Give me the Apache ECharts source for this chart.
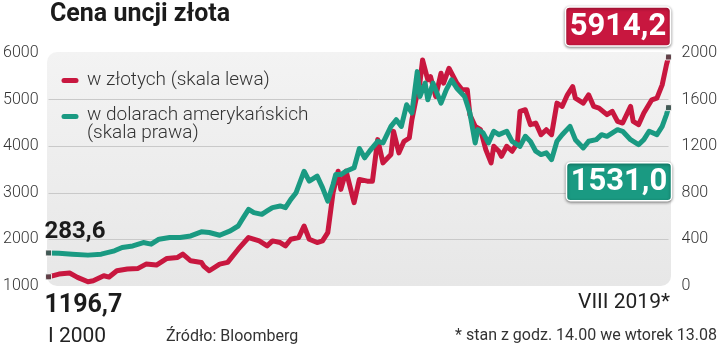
<!DOCTYPE html>
<html>
<head>
<meta charset="utf-8">
<script src="https://cdn.jsdelivr.net/npm/echarts@6/dist/echarts.min.js"></script>
<style>
  html, body { margin: 0; padding: 0; background: #ffffff; }
  #chart { width: 720px; height: 349px; }
</style>
</head>
<body>
<div id="chart"></div>
<script>
// Gold price per ounce, in PLN (left scale)
const plnDates = ['2000-01','2000-05','2000-09','2000-12','2001-04','2001-06','2001-10','2001-12','2002-03','2002-07','2002-11','2003-02','2003-06','2003-10','2004-02','2004-04','2004-07','2004-11','2004-12','2005-02','2005-06','2005-09','2006-01','2006-05','2006-09','2006-12','2007-02','2007-05','2007-07','2007-09','2007-12','2008-02','2008-04','2008-07','2008-09','2008-11','2009-01','2009-03','2009-04','2009-06','2009-09','2009-11','2010-02','2010-04','2010-06','2010-08','2010-11','2010-12','2011-02','2011-04','2011-06','2011-07','2011-09','2011-10','2011-11','2012-01','2012-02','2012-04','2012-06','2012-07','2012-09','2012-12','2013-02','2013-04','2013-05','2013-07','2013-09','2013-11','2014-01','2014-02','2014-04','2014-05','2014-07','2014-09','2014-11','2014-12','2015-02','2015-04','2015-06','2015-08','2015-10','2015-12','2016-02','2016-04','2016-06','2016-08','2016-09','2016-12','2017-02','2017-04','2017-06','2017-09','2017-11','2018-01','2018-03','2018-06','2018-07','2018-09','2018-11','2019-02','2019-04','2019-06','2019-07-20','2019-08-13'];
const plnValues = [1196.7,1256,1278,1186,1092,1113,1220,1192,1327,1363,1378,1470,1449,1592,1613,1684,1541,1506,1420,1327,1470,1506,1790,2040,1968,1861,1968,1933,1861,2004,2040,2288,2004,1933,1968,2147,3002,3464,3073,3464,2788,3287,3250,3250,4141,3643,3820,4318,3857,4105,4176,4568,5139,5352,5850,5423,5494,5067,5566,5352,5673,5352,5210,5210,4676,4425,4354,3927,3643,3998,3891,3784,3998,3891,4070,4746,4782,4461,4497,4247,4354,4247,4924,4853,5103,5280,5032,4924,5103,4853,4818,4676,4746,4532,4497,4853,4532,4461,4711,4996,5032,5316,5744,5914.2];

// Gold price per ounce, in USD (right scale)
const usdDates = ['2000-01','2000-05','2000-10','2001-04','2001-09','2002-02','2002-05','2002-09','2003-01','2003-04','2003-07','2003-11','2004-03','2004-07','2004-11','2005-02','2005-06','2005-10','2006-01','2006-03','2006-05','2006-07','2006-10','2006-12','2007-02','2007-05','2007-07','2007-09','2007-11','2008-02','2008-04','2008-07','2008-09','2008-11','2009-01','2009-02','2009-04','2009-06','2009-09','2009-11','2010-01','2010-03','2010-06','2010-08','2010-11','2011-01','2011-03','2011-05','2011-07','2011-09','2011-10','2011-12','2012-01','2012-03','2012-06','2012-08','2012-10','2012-12','2013-03','2013-05','2013-07','2013-08','2013-10','2013-12','2014-02','2014-04','2014-07','2014-09','2014-12','2015-02','2015-04','2015-06','2015-08','2015-10','2015-12','2016-02','2016-04','2016-07','2016-09','2016-12','2017-02','2017-05','2017-07','2017-09','2018-01','2018-03','2018-06','2018-09','2018-11','2019-01','2019-04','2019-06','2019-07-20','2019-08-13'];
const usdValues = [283.6,282,273,265,273,302,331,344,373,359,402,416,416,430,465,459,436,473,515,587,658,630,615,644,673,687,673,744,801,985,900,943,844,729,872,957,957,985,1015,1180,1100,1160,1242,1228,1370,1427,1370,1556,1485,1840,1627,1741,1598,1741,1570,1684,1769,1698,1627,1485,1228,1342,1314,1228,1328,1299,1328,1242,1199,1285,1240,1157,1128,1143,1085,1242,1299,1370,1256,1185,1242,1256,1299,1285,1342,1328,1256,1214,1256,1328,1299,1370,1470,1531.0];

// Axis ticks
const leftTicks = [1000, 2000, 3000, 4000, 5000, 6000];
const rightTicks = [0, 400, 800, 1200, 1600, 2000];

const RED = '#c8173f';
const GREEN = '#1a9a82';
const FONT = 'Roboto, "Noto Sans", sans-serif';

const fmt = v => v.toFixed(1).replace('.', ',');
const pln = plnDates.map((d, i) => [d, plnValues[i]]);
const usd = usdDates.map((d, i) => [d, usdValues[i]]);
const ends = arr => [arr[0], arr[arr.length - 1]];

const chart = echarts.init(document.getElementById('chart'), null, { renderer: 'canvas' });

const axisLabel = { fontFamily: FONT, fontSize: 16, fontWeight: 300, color: '#333', formatter: v => String(v) };

chart.setOption({
  animation: false,
  grid: { left: 48, right: 51, top: 53, bottom: 63 },
  xAxis: { type: 'time', min: '2000-01-01', max: '2019-08-13', show: false },
  yAxis: [
    {
      type: 'value', position: 'left',
      min: leftTicks[0], max: leftTicks[leftTicks.length - 1], interval: leftTicks[1] - leftTicks[0],
      axisLine: { show: false }, axisTick: { show: false },
      axisLabel: Object.assign({ margin: 10 }, axisLabel),
      splitLine: { lineStyle: { width: 1, color: ['rgba(0,0,0,0)', '#c9c9c9', '#c9c9c9', '#c9c9c9', '#c9c9c9', 'rgba(0,0,0,0)'] } }
    },
    {
      type: 'value', position: 'right',
      min: rightTicks[0], max: rightTicks[rightTicks.length - 1], interval: rightTicks[1] - rightTicks[0],
      axisLine: { show: false }, axisTick: { show: false },
      axisLabel: Object.assign({ margin: 13 }, axisLabel),
      splitLine: { show: false }
    }
  ],
  series: [
    {
      name: 'w złotych (skala lewa)', type: 'line', yAxisIndex: 0, data: pln,
      showSymbol: false, z: 3,
      lineStyle: { color: RED, width: 5, cap: 'round', join: 'round' }, itemStyle: { color: RED }
    },
    {
      name: 'w dolarach amerykańskich (skala prawa)', type: 'line', yAxisIndex: 1, data: usd,
      showSymbol: false, z: 4,
      lineStyle: { color: GREEN, width: 5, cap: 'round', join: 'round' }, itemStyle: { color: GREEN }
    },
    {
      type: 'scatter', yAxisIndex: 0, data: ends(pln), symbol: 'rect', symbolSize: 6, z: 6,
      itemStyle: { color: '#4a4a4a', borderColor: '#ffffff', borderWidth: 1 }
    },
    {
      type: 'scatter', yAxisIndex: 1, data: ends(usd), symbol: 'rect', symbolSize: 6, z: 6,
      itemStyle: { color: '#4a4a4a', borderColor: '#ffffff', borderWidth: 1 }
    }
  ]
});

// Anchor points of the value labels, taken from the data
const pStartPln = chart.convertToPixel({ seriesIndex: 0 }, pln[0]);
const pEndPln = chart.convertToPixel({ seriesIndex: 0 }, pln[pln.length - 1]);
const pStartUsd = chart.convertToPixel({ seriesIndex: 1 }, usd[0]);
const pEndUsd = chart.convertToPixel({ seriesIndex: 1 }, usd[usd.length - 1]);

function valueBox(x, y, w, h, color, value) {
  return {
    type: 'group', z: 20,
    children: [
      {
        type: 'rect', shape: { x: x, y: y, width: w, height: h, r: 4 },
        style: { fill: color, stroke: '#ffffff', lineWidth: 1.5, shadowBlur: 3, shadowColor: 'rgba(0,0,0,0.45)', shadowOffsetY: 1 }
      },
      {
        type: 'text', x: x + w / 2, y: y + h / 2 + 1,
        style: { text: fmt(value), font: 'bold 31px ' + FONT, fill: '#ffffff', align: 'center', verticalAlign: 'middle' }
      }
    ]
  };
}

const textStyle = (text, size, weight, color, align) => ({
  text: text, font: weight + ' ' + size + 'px ' + FONT, fill: color, align: align || 'left', verticalAlign: 'middle'
});

chart.setOption({
  graphic: [
    {
      type: 'rect', z: -1, silent: true,
      shape: { x: 47, y: 52, width: 624, height: 234, r: 10 },
      style: {
        fill: new echarts.graphic.LinearGradient(0, 0, 0, 1, [
          { offset: 0, color: '#f3f3f3' }, { offset: 1, color: '#e7e7e7' }
        ])
      }
    },
    { type: 'text', x: 50, y: 15, style: textStyle('Cena uncji złota', 25, 'bold', '#1b1b1b') },

    // legend
    { type: 'line', shape: { x1: 64, y1: 80.5, x2: 76, y2: 80.5 }, style: { stroke: RED, lineWidth: 5, lineCap: 'round' } },
    { type: 'text', x: 87, y: 80, style: textStyle('w złotych (skala lewa)', 19, 300, '#333') },
    { type: 'line', shape: { x1: 64, y1: 116.5, x2: 76, y2: 116.5 }, style: { stroke: GREEN, lineWidth: 5, lineCap: 'round' } },
    { type: 'text', x: 87, y: 115, style: textStyle('w dolarach amerykańskich', 19, 300, '#333') },
    { type: 'text', x: 87, y: 133, style: textStyle('(skala prawa)', 19, 300, '#333') },

    // start values
    { type: 'text', x: pStartUsd[0] - 4, y: pStartUsd[1] - 21, z: 20, style: textStyle(fmt(usdValues[0]), 24, 'bold', '#1b1b1b') },
    { type: 'text', x: pStartPln[0] - 4, y: pStartPln[1] + 29, z: 20, style: textStyle(fmt(plnValues[0]), 25, 'bold', '#1b1b1b') },

    // latest values
    valueBox(pEndPln[0] - 103, pEndPln[1] - 50, 105, 39, RED, plnValues[plnValues.length - 1]),
    valueBox(pEndUsd[0] - 102, pEndUsd[1] + 55, 105, 38, GREEN, usdValues[usdValues.length - 1]),

    // period and source notes
    { type: 'text', x: 48, y: 337, style: textStyle('I 2000', 21, 'normal', '#222') },
    { type: 'text', x: 670, y: 303, style: textStyle('VIII 2019*', 21, 'normal', '#222', 'right') },
    { type: 'text', x: 166, y: 337, style: textStyle('Źródło: Bloomberg', 16, 'normal', '#333') },
    { type: 'text', x: 717, y: 336, style: textStyle('* stan z godz. 14.00 we wtorek 13.08', 16, 'normal', '#333', 'right') }
  ]
});
</script>
</body>
</html>
